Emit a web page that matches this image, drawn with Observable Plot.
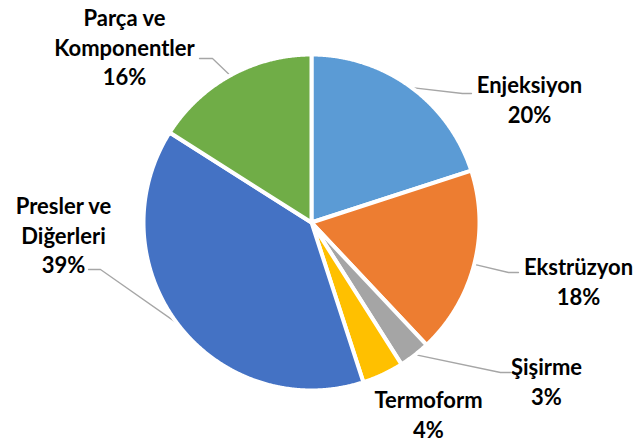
<!DOCTYPE html>
<html>
<head>
<meta charset="utf-8">
<script src="https://cdn.jsdelivr.net/npm/d3@7"></script>
<script src="https://cdn.jsdelivr.net/npm/@observablehq/plot@0.6"></script>
<style>
  html, body { margin: 0; padding: 0; background: #fff; }
  #chart { width: 633px; height: 443px; }
</style>
</head>
<body>
<div id="chart"></div>
<script>
// ---- data ----
const categories = ["Enjeksiyon", "Ekstrüzyon", "Şişirme", "Termoform", "Presler ve Diğerleri", "Parça ve Komponentler"];
const values = [20, 18, 3, 4, 39, 16];
const labelNames = ["Enjeksiyon", "Ekstrüzyon", "Şişirme", "Termoform", "Presler ve\nDiğerleri", "Parça ve\nKomponentler"];

// ---- styles / layout ----
const colors = ["#5B9BD5", "#ED7D31", "#A5A5A5", "#FFC000", "#4472C4", "#70AD47"];
const W = 633, H = 443;
const cx = 311, cy = 222, R = 168;
// label block centres (x, y) and leader elbows / ends (null = no leader)
const labelPos = [[529, 98], [578, 280], [546, 380], [428, 413], [63, 234], [124, 46]];
const elbows = [[[462, 93], [471, 93]], [[508, 272], [518, 272]], [[500, 372], [510, 372]], null, [[100, 269], [88, 269]], [[212, 58], [199, 58]]];

const arcs = d3.pie().sort(null).value(d => d)(values);
const pt = (a, r) => [cx + r * Math.sin(a), cy - r * Math.cos(a)];

const sliceRows = [];
arcs.forEach((a, i) => {
  const name = categories[i];
  sliceRows.push({name, x: cx, y: cy});
  const n = Math.max(2, Math.ceil((a.endAngle - a.startAngle) / 0.005));
  for (let k = 0; k <= n; k++) {
    const t = a.startAngle + (a.endAngle - a.startAngle) * k / n;
    const [x, y] = pt(t, R);
    sliceRows.push({name, x, y});
  }
  sliceRows.push({name, x: cx, y: cy});
});

const leaderRows = [];
arcs.forEach((a, i) => {
  if (!elbows[i]) return;
  const mid = (a.startAngle + a.endAngle) / 2;
  const [x0, y0] = pt(mid, R - 1);
  leaderRows.push({name: categories[i], x: x0, y: y0});
  elbows[i].forEach(([x, y]) => leaderRows.push({name: categories[i], x, y}));
});

const labelRows = arcs.map((a, i) => ({
  name: categories[i],
  text: labelNames[i] + "\n" + values[i] + "%",
  x: labelPos[i][0],
  y: labelPos[i][1]
}));

const chart = Plot.plot({
  width: W,
  height: H,
  margin: 0,
  x: {domain: [0, W], range: [0, W], axis: null},
  y: {domain: [0, H], range: [0, H], axis: null},
  color: {domain: categories, range: colors},
  style: {background: "#fff", fontFamily: "Lato, 'Open Sans', sans-serif"},
  marks: [
    Plot.line(leaderRows, {x: "x", y: "y", z: "name", stroke: "#A6A6A6", strokeWidth: 1.3}),
    Plot.line(sliceRows, {x: "x", y: "y", z: "name", fill: "name", stroke: "white", strokeWidth: 4, strokeLinejoin: "round", curve: "linear"}),
    Plot.text(labelRows, {x: "x", y: "y", text: "text", fill: "#000", fontSize: 22, fontWeight: "bold", lineHeight: 1.34, lineAnchor: "middle", textAnchor: "middle"})
  ]
});
document.getElementById("chart").appendChild(chart);
</script>
</body>
</html>
